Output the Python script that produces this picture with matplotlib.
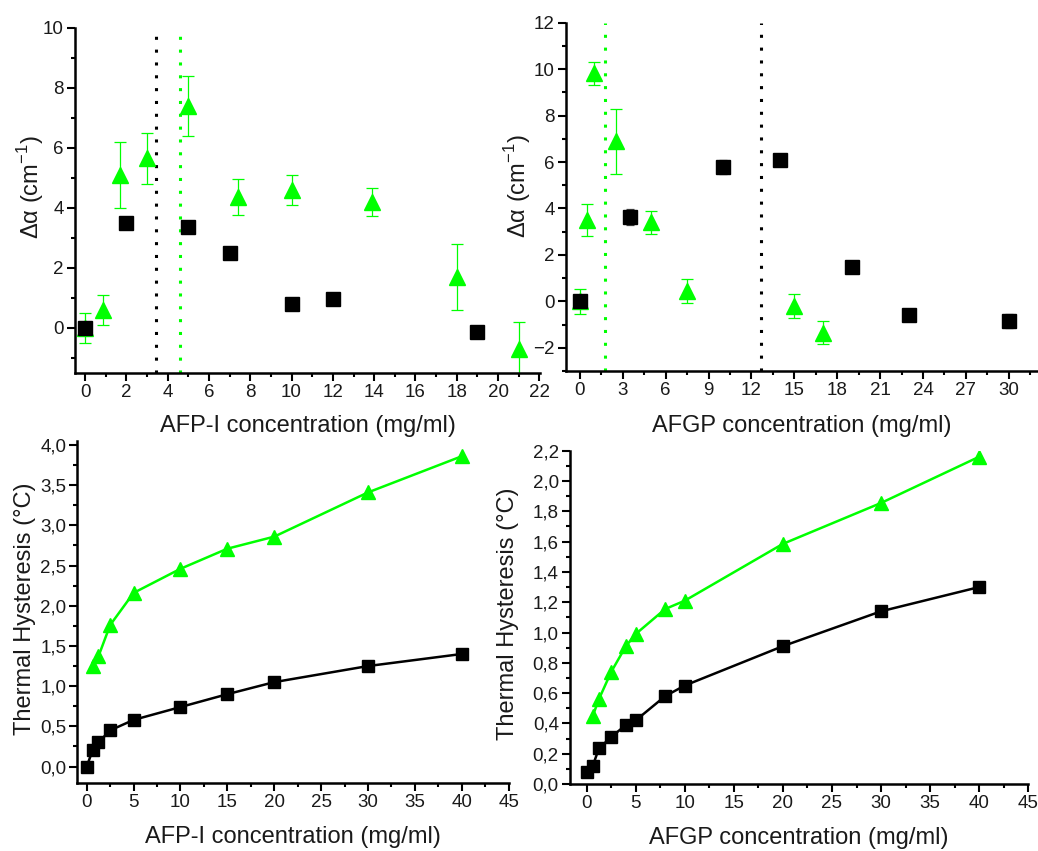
import numpy as np
import matplotlib
matplotlib.use("Agg")
import matplotlib.pyplot as plt
from matplotlib.ticker import MultipleLocator, FuncFormatter

plt.rcParams['font.family'] = ['Liberation Sans', 'DejaVu Sans']
plt.rcParams['mathtext.fontset'] = 'custom'
plt.rcParams['mathtext.rm'] = 'Liberation Sans'

GREEN = '#00ff00'

# --- top left: AFP-I, delta alpha ---
afp_sq_x = [0, 2, 5, 7, 10, 12, 19]
afp_sq_y = [0.0, 3.5, 3.35, 2.5, 0.8, 0.95, -0.15]
afp_sq_err = [0.2, 0.2, 0.2, 0.2, 0.2, 0.2, 0.2]
afp_tri_x = [0, 0.85, 1.7, 3.0, 5.0, 7.4, 10, 13.9, 18, 21]
afp_tri_y = [0.0, 0.6, 5.1, 5.65, 7.4, 4.35, 4.6, 4.2, 1.7, -0.7]
afp_tri_err = [0.5, 0.5, 1.1, 0.85, 1.0, 0.6, 0.5, 0.48, 1.1, 0.9]
afp_vline_black = 3.42
afp_vline_green = 4.6

# --- top right: AFGP, delta alpha ---
afgp_sq_x = [0, 3.5, 10, 14, 19, 23, 30]
afgp_sq_y = [0.0, 3.62, 5.8, 6.1, 1.47, -0.58, -0.85]
afgp_sq_err = [0.2, 0.35, 0.3, 0.25, 0.25, 0.2, 0.3]
afgp_tri_x = [0, 0.5, 1.0, 2.5, 5, 7.5, 15, 17]
afgp_tri_y = [0.0, 3.5, 9.83, 6.9, 3.4, 0.45, -0.2, -1.35]
afgp_tri_err = [0.53, 0.7, 0.5, 1.4, 0.5, 0.5, 0.5, 0.5]
afgp_vline_green = 1.73
afgp_vline_black = 12.7

# --- bottom left: AFP-I, thermal hysteresis ---
th_afp_sq_x = [0, 0.625, 1.25, 2.5, 5, 10, 15, 20, 30, 40]
th_afp_sq_y = [0.0, 0.2, 0.3, 0.45, 0.58, 0.74, 0.9, 1.05, 1.25, 1.4]
th_afp_tri_x = [0.625, 1.25, 2.5, 5, 10, 15, 20, 30, 40]
th_afp_tri_y = [1.25, 1.37, 1.76, 2.16, 2.46, 2.71, 2.86, 3.41, 3.86]

# --- bottom right: AFGP, thermal hysteresis ---
th_afgp_sq_x = [0, 0.625, 1.25, 2.5, 4, 5, 8, 10, 20, 30, 40]
th_afgp_sq_y = [0.08, 0.12, 0.235, 0.31, 0.39, 0.42, 0.58, 0.65, 0.91, 1.14, 1.30]
th_afgp_tri_x = [0.625, 1.25, 2.5, 4, 5, 8, 10, 20, 30, 40]
th_afgp_tri_y = [0.45, 0.56, 0.74, 0.91, 0.99, 1.155, 1.21, 1.585, 1.855, 2.16]

DA_LABEL = 'Δα (cm$^{\\mathregular{-1}}$)'
TXT = '#1a1a1a'


def comma_fmt(nd):
    return FuncFormatter(lambda v, p: f"{v:.{nd}f}".replace('.', ','))


def style(ax, xmaj, xmin, ymaj, ymin):
    for s in ['top', 'right']:
        ax.spines[s].set_visible(False)
    for s in ['left', 'bottom']:
        ax.spines[s].set_linewidth(1.8)
    ax.xaxis.set_major_locator(MultipleLocator(xmaj))
    ax.xaxis.set_minor_locator(MultipleLocator(xmin))
    ax.yaxis.set_major_locator(MultipleLocator(ymaj))
    ax.yaxis.set_minor_locator(MultipleLocator(ymin))
    ax.tick_params(which='major', direction='out', length=5.5, width=1.5,
                   labelsize=13.5, pad=2.5, color='black', labelcolor=TXT)
    ax.tick_params(which='minor', direction='out', length=3, width=1.5)


fig = plt.figure(figsize=(10.38, 8.51), dpi=100)

ax1 = fig.add_axes([0.0720, 0.5617, 0.4486, 0.4054])
ax2 = fig.add_axes([0.5450, 0.5640, 0.4543, 0.4093])
ax3 = fig.add_axes([0.0745, 0.0799, 0.4155, 0.4019])
ax4 = fig.add_axes([0.5491, 0.0787, 0.4415, 0.3917])

# top left
ax1.axvline(afp_vline_black, color='black', lw=2.2, ls=(0, (1, 3.2)))
ax1.axvline(afp_vline_green, color=GREEN, lw=2.2, ls=(0, (1, 3.2)))
ax1.errorbar(afp_tri_x, afp_tri_y, yerr=afp_tri_err, fmt='^', color=GREEN,
             ms=11, ecolor=GREEN, elinewidth=0.9, capsize=4, capthick=0.9)
ax1.errorbar(afp_sq_x, afp_sq_y, yerr=afp_sq_err, fmt='s', color='black',
             ms=9.5, ecolor='#444444', elinewidth=0.9, capsize=3, capthick=0.9)
ax1.set_xlim(-0.5, 22.05)
ax1.set_ylim(-1.5, 10)
style(ax1, 2, 1, 2, 1)
ax1.set_yticks([0, 2, 4, 6, 8, 10])
ax1.set_xlabel('AFP-I concentration (mg/ml)', fontsize=17, color=TXT)
ax1.set_ylabel(DA_LABEL, fontsize=17, color=TXT)
ax1.xaxis.set_label_coords(0.5, -0.122)
ax1.yaxis.set_label_coords(-0.062, 0.54)

# top right
ax2.axvline(afgp_vline_green, color=GREEN, lw=2.2, ls=(0, (1, 3.2)))
ax2.axvline(afgp_vline_black, color='black', lw=2.2, ls=(0, (1, 3.2)))
ax2.errorbar(afgp_tri_x, afgp_tri_y, yerr=afgp_tri_err, fmt='^', color=GREEN,
             ms=11, ecolor=GREEN, elinewidth=0.9, capsize=4, capthick=0.9)
ax2.errorbar(afgp_sq_x, afgp_sq_y, yerr=afgp_sq_err, fmt='s', color='black',
             ms=9.5, ecolor='#444444', elinewidth=0.9, capsize=3, capthick=0.9)
ax2.set_xlim(-1, 32)
ax2.set_ylim(-3, 12)
style(ax2, 3, 1.5, 2, 1)
ax2.set_xticks(np.arange(0, 31, 3))
ax2.set_yticks(np.arange(-2, 13, 2))
ax2.set_xlabel('AFGP concentration (mg/ml)', fontsize=17, color=TXT)
ax2.set_ylabel(DA_LABEL, fontsize=17, color=TXT)
ax2.xaxis.set_label_coords(0.5, -0.126)
ax2.yaxis.set_label_coords(-0.07, 0.53)

# bottom left
ax3.plot(th_afp_tri_x, th_afp_tri_y, '-^', color=GREEN, lw=1.8, ms=10)
ax3.plot(th_afp_sq_x, th_afp_sq_y, '-s', color='black', lw=1.8, ms=8.5)
ax3.set_xlim(-1, 45)
ax3.set_ylim(-0.205, 4.05)
style(ax3, 5, 2.5, 0.5, 0.25)
ax3.set_yticks(np.arange(0, 4.01, 0.5))
ax3.yaxis.set_major_formatter(comma_fmt(1))
ax3.set_xlabel('AFP-I concentration (mg/ml)', fontsize=17, color=TXT)
ax3.set_ylabel('Thermal Hysteresis (°C)', fontsize=17, color=TXT)
ax3.xaxis.set_label_coords(0.5, -0.126)
ax3.yaxis.set_label_coords(-0.095, 0.51)

# bottom right
ax4.plot(th_afgp_tri_x, th_afgp_tri_y, '-^', color=GREEN, lw=1.8, ms=10)
ax4.plot(th_afgp_sq_x, th_afgp_sq_y, '-s', color='black', lw=1.8, ms=8.5)
ax4.set_xlim(-1.7, 45)
ax4.set_ylim(0, 2.2)
style(ax4, 5, 2.5, 0.2, 0.1)
ax4.set_yticks(np.arange(0, 2.21, 0.2))
ax4.yaxis.set_major_formatter(comma_fmt(1))
ax4.set_xlabel('AFGP concentration (mg/ml)', fontsize=17, color=TXT)
ax4.set_ylabel('Thermal Hysteresis (°C)', fontsize=17, color=TXT)
ax4.xaxis.set_label_coords(0.5, -0.128)
ax4.yaxis.set_label_coords(-0.112, 0.51)

fig.savefig('out.png', dpi=100)
